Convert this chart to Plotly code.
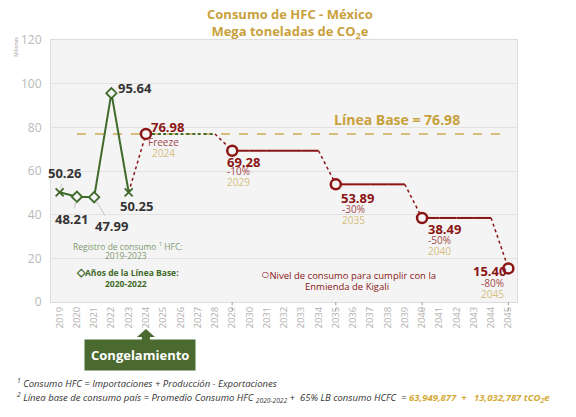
import plotly.graph_objects as go

# categories
years = ["2019", "2020", "2021", "2022", "2023", "2024", "2025", "2026", "2027",
         "2028", "2029", "2030", "2031", "2032", "2033", "2034", "2035", "2036",
         "2037", "2038", "2039", "2040", "2041", "2042", "2043", "2044", "2045"]

# registro de consumo HFC 2019-2023
hist_years = ["2019", "2020", "2021", "2022", "2023"]
hist_values = [50.26, 48.21, 47.99, 95.64, 50.25]

# nivel de consumo Kigali
kigali_years = ["2024", "2025", "2026", "2027", "2028", "2029", "2030", "2031",
                "2032", "2033", "2034", "2035", "2036", "2037", "2038", "2039",
                "2040", "2041", "2042", "2043", "2044", "2045"]
kigali_values = [76.98, 76.98, 76.98, 76.98, 76.98, 69.28, 69.28, 69.28,
                 69.28, 69.28, 69.28, 53.89, 53.89, 53.89, 53.89, 53.89,
                 38.49, 38.49, 38.49, 38.49, 38.49, 15.40]

milestone_years = ["2024", "2029", "2035", "2040", "2045"]
milestone_values = [76.98, 69.28, 53.89, 38.49, 15.40]
milestone_labels = ["Freeze", "-10%", "-30%", "-50%", "-80%"]

baseline_value = 76.98

GREEN = "#3f6a2a"
BOX_GREEN = "#4b6a30"
RED = "#8b1414"
RED_LIGHT = "#a4474a"
GOLD = "#c9a13c"
GOLD_LIGHT = "#d6be7a"
FONT = "Open Sans"
X_RANGE = [-0.5, len(years) - 0.5]


def idx(yr):
    # annotations on a category axis are placed by category index
    return years.index(yr)


def paper_x(yr):
    # category position as a fraction of the x axis (for unclipped shapes)
    return (idx(yr) - X_RANGE[0]) / (X_RANGE[1] - X_RANGE[0])


def note(x, y, text, size, color, **kw):
    # paper-referenced text, centred on (x, y)
    d = dict(xref="paper", yref="paper", x=x, y=y, text=text, showarrow=False,
             xanchor="center", yanchor="middle", font=dict(size=size, color=color))
    d.update(kw)
    return d


fig = go.Figure()

# linea base
fig.add_trace(go.Scatter(
    x=[years[1], years[-1]], y=[baseline_value, baseline_value],
    mode="lines", line=dict(color=GOLD_LIGHT, width=2, dash="dash"),
    hoverinfo="skip"))

# tramos Kigali: planos = solido, caidas = punteado
pts = [(hist_years[-1], hist_values[-1])] + list(zip(kigali_years, kigali_values))
for (x0, y0), (x1, y1) in zip(pts[:-1], pts[1:]):
    if y0 == y1 and y0 == milestone_values[0]:
        style = dict(color=GREEN, width=2, dash="dot")
    elif y0 == y1:
        style = dict(color=RED, width=2)
    else:
        style = dict(color=RED, width=1.5, dash="dot")
    fig.add_trace(go.Scatter(x=[x0, x1], y=[y0, y1], mode="lines",
                             line=style, hoverinfo="skip"))

# registro historico
hist_symbols = ["x-thin", "diamond", "diamond", "diamond", "x-thin"]
fig.add_trace(go.Scatter(
    x=hist_years, y=hist_values, mode="lines+markers",
    line=dict(color=GREEN, width=2),
    marker=dict(symbol=hist_symbols, size=8, color="#f4f4f4",
                line=dict(color=GREEN, width=1.8))))

fig.add_trace(go.Scatter(
    x=milestone_years, y=milestone_values, mode="markers",
    marker=dict(symbol="circle", size=10, color="#f4f4f4",
                line=dict(color=RED, width=2.5))))

ann = []

# etiquetas de valor con linea guia
hist_offsets = [(5, -19), (-5, 22), (17, 29), (24, -5), (8, 14)]
for x, y, (ax, ay) in zip(hist_years, hist_values, hist_offsets):
    ann.append(dict(x=idx(x), y=y, text="<b>%.2f</b>" % y, showarrow=True,
                    arrowhead=0, arrowwidth=0.7, arrowcolor="#b5b5b5",
                    ax=ax, ay=ay, standoff=4,
                    font=dict(size=13, color="#333333")))

ms_offsets = [(22, -7), (11, 11), (22, 14), (22, 11), (-19, 3)]
sub_offsets = [(18, -8), (6, -20), (18, -25), (17, -22), (-16, -15)]
for x, y, lab, (ax, ay), (sx, sy) in zip(milestone_years, milestone_values,
                                         milestone_labels, ms_offsets, sub_offsets):
    ann.append(dict(x=idx(x), y=y, text="<b>%.2f</b>" % y, showarrow=True,
                    arrowhead=0, arrowwidth=0.7, arrowcolor="#b5b5b5",
                    ax=ax, ay=ay, standoff=5,
                    font=dict(size=13, color=RED)))
    ann.append(dict(x=idx(x), y=y, text=lab, showarrow=False, xshift=sx, yshift=sy,
                    font=dict(size=10, color=RED_LIGHT)))
    ann.append(dict(x=idx(x), y=y, text=x, showarrow=False, xshift=sx, yshift=sy - 11,
                    font=dict(size=10, color=GOLD_LIGHT)))

ann.append(dict(x=idx("2037"), y=baseline_value,
                text="<b>Línea Base = %.2f</b>" % baseline_value,
                showarrow=False, yshift=14, xshift=27,
                font=dict(size=14, color=GOLD)))

# titulo
ann.append(note(0.513, 1.14, "<b>Consumo de HFC - México</b><br><b>Mega toneladas de CO<sub>2</sub>e</b>",
                13, GOLD, yanchor="top"))
ann.append(note(-0.077, 0.975, "Millones", 5, "#999999", textangle=-90))

# notas dentro del grafico
ann += [
    note(0.165, 0.214, "Registro de consumo <sup>1</sup> HFC:", 8.5, "#7f9a70"),
    note(0.161, 0.179, "2019-2023", 8.5, "#7f9a70"),
    note(0.165, 0.115, "<b><span style='font-size:11px'>◇</span>Años de la Línea Base:</b>", 8.5, GREEN),
    note(0.161, 0.069, "<b>2020-2022</b>", 8.5, GREEN),
    note(0.639, 0.107, "<span style='font-size:14px'><b>○</b></span>Nivel de consumo para cumplir con la",
         9.5, RED),
    note(0.635, 0.061, "Enmienda de Kigali", 9.5, RED),
]

# congelamiento
ann.append(dict(x=idx("2024"), y=-0.202, yref="paper", xshift=-6,
                xanchor="center", yanchor="middle",
                text="<b>Congelamiento</b>", showarrow=False,
                bgcolor=BOX_GREEN, borderpad=6,
                font=dict(size=13, color="white")))

# notas al pie
ann.append(note(-0.077, -0.309,
                "<i><sup>1</sup> Consumo HFC = Importaciones + Producción - Exportaciones</i>",
                9.5, "#333333", xanchor="left"))
ann.append(note(-0.077, -0.363,
                "<i><sup>2</sup> Línea base de consumo país = Promedio Consumo HFC "
                "<sub>2020-2022</sub> +  65% LB consumo HCFC  = "
                "<b><span style='color:#d4a935'>63,949,877  +   13,032,787 tCO<sub>2</sub>e</span></b></i>",
                9.5, "#333333", xanchor="left"))

shapes = []
# marcas punteadas en el eje x
for yr in milestone_years[1:]:
    px = paper_x(yr)
    shapes.append(dict(type="line", xref="paper", yref="paper", x0=px, x1=px,
                       y0=-0.035, y1=0, line=dict(color="#999999", width=1, dash="dot")))

# flecha de bloque hacia 2024
shapes.append(dict(type="path", xref="paper", yref="paper",
                   xsizemode="pixel", ysizemode="pixel",
                   xanchor=paper_x("2024"), yanchor=-0.103,
                   path="M0,0 L9,-8 L4,-8 L4,-16 L-4,-16 L-4,-8 L-9,-8 Z",
                   fillcolor=BOX_GREEN, line=dict(width=0)))

fig.update_layout(
    width=576, height=417,
    margin=dict(l=51, r=59, t=40, b=115),
    paper_bgcolor="white", plot_bgcolor="#f4f4f4",
    showlegend=False,
    font=dict(family=FONT),
    annotations=ann, shapes=shapes,
    xaxis=dict(type="category", categoryorder="array", categoryarray=years,
               range=X_RANGE, tickangle=-90, showgrid=False,
               tickfont=dict(size=9.5, color="#b0b0b0"),
               showline=True, linecolor="#dddddd", mirror=True, ticks=""),
    yaxis=dict(range=[0, 120], dtick=20, gridcolor="#e2e2e2", zeroline=False,
               tickfont=dict(size=12, color="#b8b8b8"),
               showline=True, linecolor="#dddddd", mirror=True,
               ticklabelstandoff=6),
)

fig.write_html("out.html", config={"displayModeBar": False},
               post_script="document.body.style.margin='0px';")
